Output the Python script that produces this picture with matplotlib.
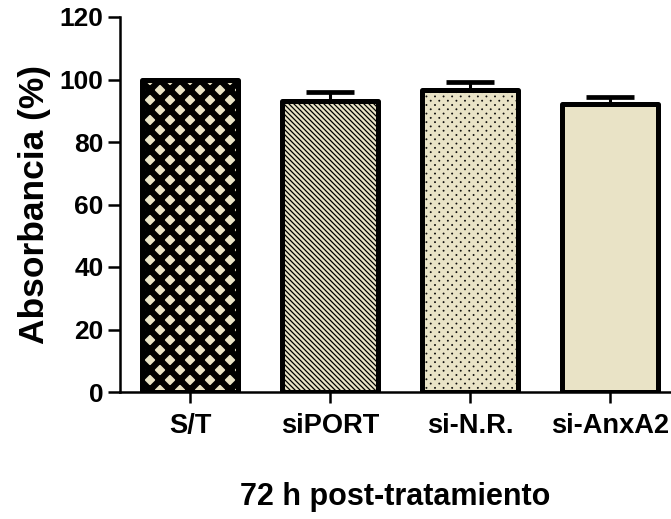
import numpy as np
import matplotlib
matplotlib.use("Agg")
import matplotlib.pyplot as plt
import matplotlib.hatch as mhatch
from matplotlib.path import Path

# ---- data ----
categories = ["S/T", "siPORT", "si-N.R.", "si-AnxA2"]
values = [100.0, 93.0, 96.8, 92.2]
errors = [0.0, 2.9, 2.4, 2.3]
yticks = [0, 20, 40, 60, 80, 100, 120]
ylabel = "Absorbancia (%)"
xlabel = "72 h post-tratamiento"

DPI = 120
k = 100.0 / DPI  # sizes below were tuned in "points at 100 dpi"

hatches = ["xx", "\\" * 8, ".", None]
hatch_lws = [3.8, 0.75, 0.7, 1.0]   # points at DPI
fill = "#E9E3C6"


# custom staggered dot pattern (replaces the built-in '.' pattern)
class StaggerDots(mhatch.HatchPatternBase):
    cols = 14
    rows = 28
    radius = 0.003

    def __init__(self, hatch, density):
        self.filled = True
        circ = Path.unit_circle()
        self.shape_vertices = circ.vertices
        self.shape_codes = circ.codes
        on = hatch.count('.') > 0
        self.num_shapes = self.rows * self.cols if on else 0
        self.num_vertices = self.num_shapes * len(self.shape_vertices)

    def set_vertices_and_codes(self, vertices, codes):
        nv = len(self.shape_vertices)
        cur = 0
        for r in range(self.rows):
            y = (r + 0.5) / self.rows
            xoff = 0.0 if r % 2 == 0 else 0.5 / self.cols
            for c in range(self.cols):
                x = (c + 0.25) / self.cols + xoff
                vertices[cur:cur + nv] = self.shape_vertices * self.radius + [x, y]
                codes[cur:cur + nv] = self.shape_codes
                cur += nv


mhatch._hatch_types = [t for t in mhatch._hatch_types
                       if t is not mhatch.SmallFilledCircles] + [StaggerDots]

plt.rcParams["font.family"] = ["Liberation Sans", "DejaVu Sans"]
plt.rcParams["font.weight"] = "bold"
plt.rcParams["hatch.color"] = "black"

fig = plt.figure(figsize=(671 / DPI, 519 / DPI), dpi=DPI)
ax = fig.add_axes([120 / 671, 127 / 519, 551 / 671, 375 / 519])

x = np.arange(len(categories))

ax.errorbar(x, values, yerr=[np.zeros(len(errors)), errors], fmt="none",
            ecolor="black", elinewidth=2.2 * k, capsize=17 * k, capthick=3.4 * k,
            zorder=1)

for i in range(len(categories)):
    with plt.rc_context({"hatch.linewidth": hatch_lws[i]}):
        bars = ax.bar(x[i], values[i], width=0.69, color=fill, edgecolor="black",
                      linewidth=3.6 * k, hatch=hatches[i], zorder=2)
    for b in bars:
        b.set_joinstyle("round")
        if hasattr(b, "set_hatch_linewidth"):
            b.set_hatch_linewidth(hatch_lws[i])

ax.set_xlim(-0.5, 3.436)
ax.set_ylim(0, 120)
ax.set_yticks(yticks)
ax.set_xticks(x)
ax.set_xticklabels(categories)

for s in ["top", "right"]:
    ax.spines[s].set_visible(False)
for s in ["left", "bottom"]:
    ax.spines[s].set_linewidth(1.8 * k)

ax.tick_params(axis="y", length=9 * k, width=1.8 * k, pad=2.8 * k, labelsize=19 * k)
ax.tick_params(axis="x", length=8 * k, width=1.8 * k, pad=7 * k, labelsize=19.6 * k)
for lab in ax.get_xticklabels() + ax.get_yticklabels():
    lab.set_fontweight("bold")

ax.set_ylabel(ylabel, fontsize=25.5 * k, fontweight="bold")
ax.yaxis.set_label_coords(-0.156, 0.5)
ax.yaxis.label.set_va("center")
ax.set_xlabel(xlabel, fontsize=22 * k, fontweight="bold")
ax.xaxis.set_label_coords(0.5, -0.28)
ax.xaxis.label.set_va("center")

fig.savefig("out.png", dpi=DPI)
